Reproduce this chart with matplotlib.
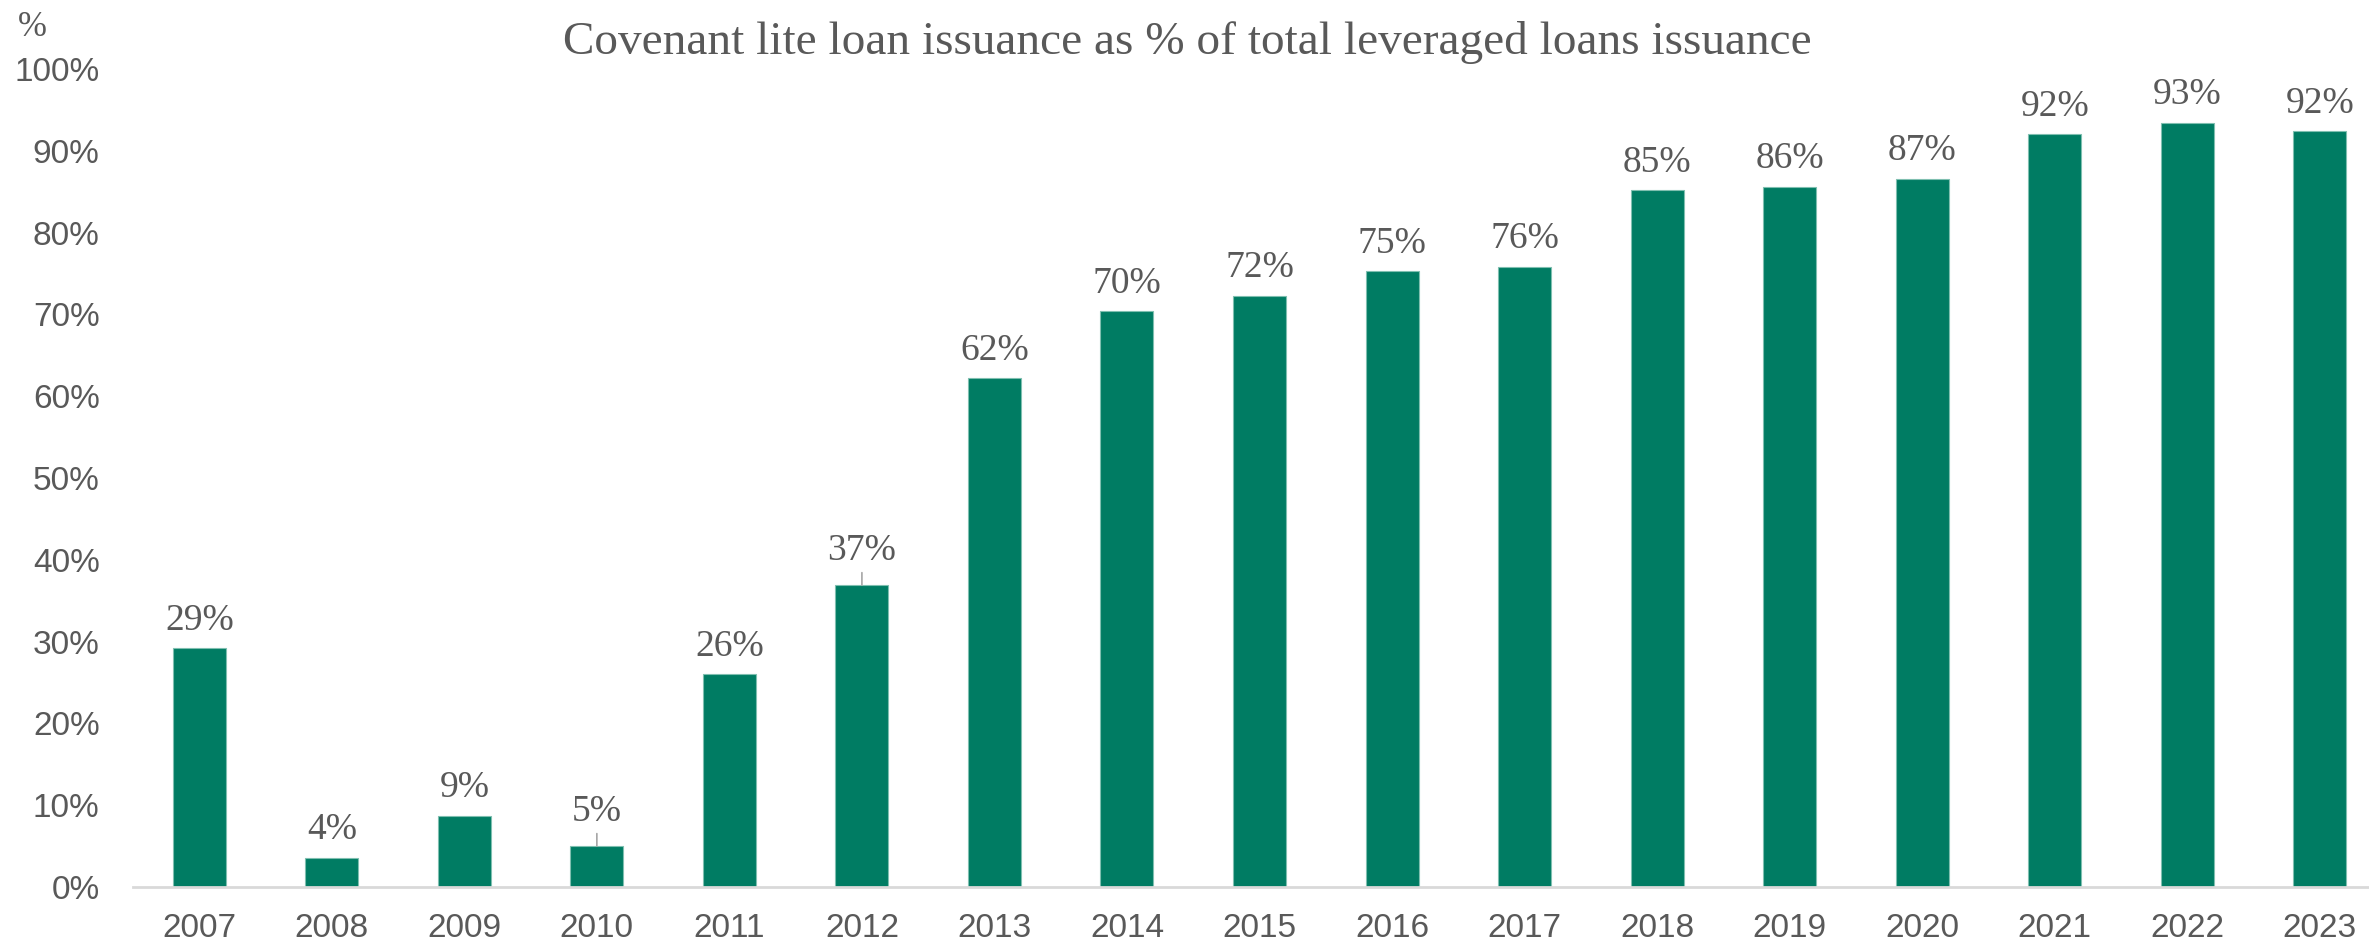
import matplotlib
matplotlib.use('Agg')
import matplotlib.pyplot as plt

years = ['2007', '2008', '2009', '2010', '2011', '2012', '2013', '2014', '2015',
         '2016', '2017', '2018', '2019', '2020', '2021', '2022', '2023']
share = [29.2, 3.6, 8.7, 5.0, 26.0, 36.9, 62.2, 70.4, 72.3,
         75.3, 75.8, 85.2, 85.6, 86.6, 92.0, 93.4, 92.4]
yticks = [0, 10, 20, 30, 40, 50, 60, 70, 80, 90, 100]
# labels that were pushed up, with a leader line back to the bar
lifted = ['2010', '2012']

green = '#007C63'
grey = '#595959'

fig = plt.figure(figsize=(23.69, 9.44), dpi=100)
ax = fig.add_axes([133/2369, 57/944, 2253/2369, 818/944])

x = list(range(len(years)))
ax.bar(x, share, width=0.4, color=green, edgecolor='#7FBFB0', linewidth=0.8, zorder=2)

ax.set_xlim(-0.5, len(years) - 0.5)
ax.set_ylim(0, 100)
ax.set_yticks(yticks)
ax.set_yticklabels([f'{t}%' for t in yticks], fontsize=24, color=grey, family='Liberation Sans')
ax.set_xticks(x)
ax.set_xticklabels(years, fontsize=24, color=grey, family='Liberation Sans')
ax.tick_params(axis='both', length=0)
ax.tick_params(axis='y', pad=24)
ax.tick_params(axis='x', pad=19)

for s in ['top', 'right', 'left']:
    ax.spines[s].set_visible(False)
ax.spines['bottom'].set_color('#D9D9D9')
ax.spines['bottom'].set_linewidth(2)

for xi, yr, v in zip(x, years, share):
    off = 25 if yr in lifted else 20
    ax.annotate(f'{v:.0f}%', xy=(xi, v), xytext=(0, off), textcoords='offset points',
                ha='center', va='center', fontsize=27, color=grey, family='Liberation Serif')
    if yr in lifted:
        ax.annotate('', xy=(xi, v), xytext=(0, 9), textcoords='offset points',
                    arrowprops=dict(arrowstyle='-', color='#A6A6A6', lw=1.2, shrinkA=0, shrinkB=0))

fig.text(1187/2369, 1 - 54/944, 'Covenant lite loan issuance as % of total leveraged loans issuance',
         ha='center', va='baseline', fontsize=34, color=grey, family='Liberation Serif')
fig.text(32/2369, 1 - 28/944, '%', ha='center', va='center', fontsize=25, color=grey,
         family='Liberation Serif')

fig.savefig('out.png', dpi=100)
